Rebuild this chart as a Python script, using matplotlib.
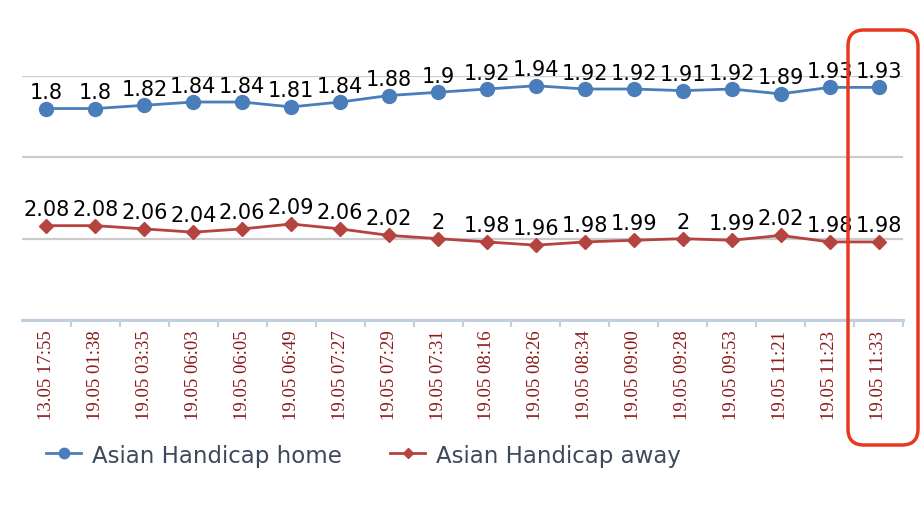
import matplotlib
matplotlib.use('Agg')
import matplotlib.pyplot as plt
from matplotlib.patches import FancyBboxPatch
from matplotlib.transforms import IdentityTransform
import numpy as np

# times of the odds changes
times = ['13.05 17:55', '19.05 01:38', '19.05 03:35', '19.05 06:03', '19.05 06:05',
         '19.05 06:49', '19.05 07:27', '19.05 07:29', '19.05 07:31', '19.05 08:16',
         '19.05 08:26', '19.05 08:34', '19.05 09:00', '19.05 09:28', '19.05 09:53',
         '19.05 11:21', '19.05 11:23', '19.05 11:33']
home = [1.8, 1.8, 1.82, 1.84, 1.84, 1.81, 1.84, 1.88, 1.9, 1.92,
        1.94, 1.92, 1.92, 1.91, 1.92, 1.89, 1.93, 1.93]
away = [2.08, 2.08, 2.06, 2.04, 2.06, 2.09, 2.06, 2.02, 2, 1.98,
        1.96, 1.98, 1.99, 2, 1.99, 2.02, 1.98, 1.98]
home_ticks = [0.5, 1.0, 1.5, 2.0]

blue = '#4A7EBB'
red = '#B5433F'

fig = plt.figure(figsize=(9.24, 5.1), dpi=100)
ax = fig.add_axes([22/924, 1-321/510, (903-22)/924, (321-77)/510])
ax2 = ax.twinx()
x = np.arange(len(times))

ax.plot(x, home, color=blue, lw=2.0, marker='o', ms=10, label='Asian Handicap home', zorder=3)
ax2.plot(x, away, color=red, lw=2.0, marker='D', ms=7, label='Asian Handicap away', zorder=3)

for xi, v in zip(x, home):
    ax.annotate('%g' % v, (xi, v), xytext=(0, 7.5), textcoords='offset points',
                ha='center', va='baseline', fontsize=15, color='black')
for xi, v in zip(x, away):
    ax2.annotate('%g' % v, (xi, v), xytext=(0, 8), textcoords='offset points',
                 ha='center', va='baseline', fontsize=15, color='black')

ax.set_xlim(-0.5, len(times)-0.5)
ax.set_ylim(0.5, 2.0)
ax2.set_ylim(1.5, 3.0)
ax.set_yticks(home_ticks)
ax.grid(True, axis='y', color='#CCCCCC', lw=1.6)
ax.set_axisbelow(True)
ax.tick_params(axis='y', left=False, labelleft=False)
ax2.set_yticks([])

ax.set_xticks(x)
ax.set_xticklabels(times, rotation=90, fontsize=13.5, family='Liberation Serif', color='#8B1A1A')
ax.tick_params(axis='x', length=0, pad=7)
ax.set_xticks(np.arange(0.5, len(times), 1), minor=True)
ax.tick_params(axis='x', which='minor', length=5, color='#C0D0E0', width=1.5)

for a in (ax, ax2):
    for s in ('top', 'left', 'right'):
        a.spines[s].set_visible(False)
    a.spines['bottom'].set_color('#C0D0E0')
    a.spines['bottom'].set_linewidth(2)

h1, l1 = ax.get_legend_handles_labels()
h2, l2 = ax2.get_legend_handles_labels()
fig.legend(h1+h2, l1+l2, loc='center left', bbox_to_anchor=(0.028, 1-456/510), ncol=2,
           frameon=False, fontsize=16.5, labelcolor='#3E4A5A', handlelength=1.5,
           handletextpad=0.5, columnspacing=2.1, markerscale=0.75)

# red highlight box around the last time point (pixel coords)
box = FancyBboxPatch((848, 510-446), 70, 415, boxstyle='round,pad=0,rounding_size=16',
                     transform=IdentityTransform(), fill=False, ec='#E8391E', lw=2.5)
fig.patches.append(box)

fig.savefig('out.png', dpi=100)
